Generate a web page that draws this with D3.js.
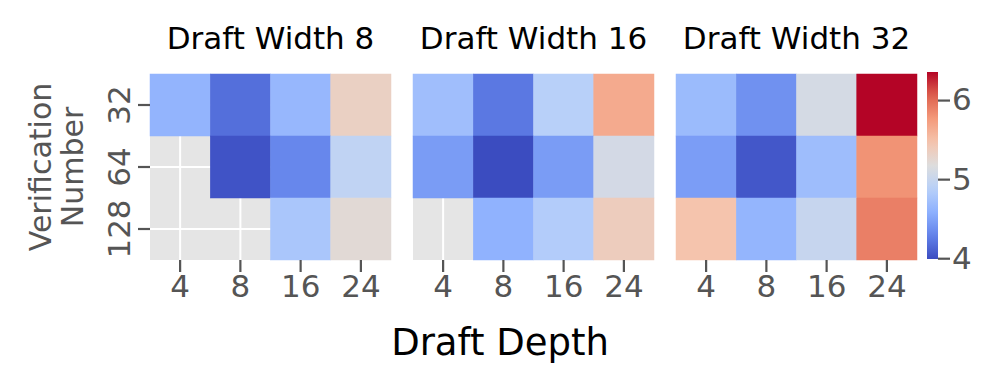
<!DOCTYPE html>
<html>
<head>
<meta charset="utf-8">
<script src="https://cdn.jsdelivr.net/npm/d3@7"></script>
<style>
  body { margin: 0; background: #fff; }
  text { font-family: "DejaVu Sans", sans-serif; }
</style>
</head>
<body>
<div id="chart"></div>
<script>
// Chart data
var depths = [4, 8, 16, 24];          // Draft Depth (columns)
var verifications = [32, 64, 128];    // Verification Number (rows)
var widths = [8, 16, 32];             // Draft Width (panels)

// values[row][col], null = missing cell
var width8 = [
    [4.62, 4.18, 4.65, 5.33],
    [null, 4.03, 4.32, 4.94],
    [null, null, 4.78, 5.22]
];
var width16 = [
    [4.71, 4.23, 4.88, 5.65],
    [4.45, 3.99, 4.45, 5.09],
    [null, 4.60, 4.84, 5.37]
];
var width32 = [
    [4.68, 4.38, 5.10, 6.355],
    [4.46, 4.05, 4.70, 5.80],
    [5.47, 4.63, 4.99, 5.90]
];
var panels = [width8, width16, width32];
var colorTicks = [4, 5, 6];

// SVG dimensions
var svgWidth = 998;
var svgHeight = 391;

var svg = d3.select("#chart")
    .append("svg")
    .attr("width", svgWidth)
    .attr("height", svgHeight);

// coolwarm colormap (matplotlib), linear between stops
var vmin = 3.99, vmax = 6.355;
var cwStops = ["#3b4cc0", "#6282ea", "#8db0fe", "#b8d0f9", "#dddddd",
               "#f5c4ad", "#f49a7b", "#de604d", "#b40426"];
var cw = d3.scaleLinear()
    .domain(d3.range(cwStops.length).map(function (i) { return i / (cwStops.length - 1); }))
    .range(cwStops)
    .interpolate(d3.interpolateRgb);
var color = function (v) { return cw((v - vmin) / (vmax - vmin)); };

var panelLeft = [150, 413, 676];
var panelW = 241;
var plotTop = 74, plotBottom = 260;
var tickColor = "#555";

var yScale = d3.scaleBand().domain(verifications).range([plotTop, plotBottom]);

panels.forEach(function (values, p) {
    var xScale = d3.scaleBand().domain(depths).range([panelLeft[p], panelLeft[p] + panelW]);
    var g = svg.append("g");

    // axes background (shows where a cell is missing)
    g.append("rect")
        .attr("x", panelLeft[p]).attr("y", plotTop)
        .attr("width", panelW).attr("height", plotBottom - plotTop)
        .attr("fill", "#e5e5e5");

    // white grid lines
    g.selectAll(".vgrid")
        .data(depths)
        .enter()
        .append("line")
        .attr("x1", function (d) { return xScale(d) + xScale.bandwidth() / 2; })
        .attr("x2", function (d) { return xScale(d) + xScale.bandwidth() / 2; })
        .attr("y1", plotTop).attr("y2", plotBottom)
        .attr("stroke", "#fff").attr("stroke-width", 2);
    if (p === 0) {
        g.selectAll(".hgrid")
            .data(verifications)
            .enter()
            .append("line")
            .attr("y1", function (d) { return yScale(d) + yScale.bandwidth() / 2; })
            .attr("y2", function (d) { return yScale(d) + yScale.bandwidth() / 2; })
            .attr("x1", panelLeft[p]).attr("x2", panelLeft[p] + panelW)
            .attr("stroke", "#fff").attr("stroke-width", 2);
    }

    // cells
    var cells = [];
    values.forEach(function (row, r) {
        row.forEach(function (v, c) {
            if (v !== null) cells.push({ row: verifications[r], col: depths[c], value: v });
        });
    });
    g.selectAll(".cell")
        .data(cells)
        .enter()
        .append("rect")
        .attr("x", function (d) { return xScale(d.col); })
        .attr("y", function (d) { return yScale(d.row); })
        .attr("width", xScale.bandwidth())
        .attr("height", yScale.bandwidth())
        .attr("fill", function (d) { return color(d.value); })
        .attr("stroke", function (d) { return color(d.value); })
        .attr("stroke-width", 0.5);

    // x axis
    var xAxis = g.append("g")
        .attr("transform", `translate(0, ${plotBottom})`)
        .call(d3.axisBottom(xScale).tickSize(12).tickPadding(3));
    xAxis.select(".domain").remove();
    xAxis.selectAll("line").attr("stroke", tickColor).attr("stroke-width", 2.2);
    xAxis.selectAll("text")
        .attr("fill", tickColor)
        .style("font-size", "31px")
        .style("font-family", "DejaVu Sans");

    // panel title
    g.append("text")
        .attr("x", panelLeft[p] + panelW / 2)
        .attr("y", 49)
        .attr("text-anchor", "middle")
        .style("font-size", "31px")
        .attr("fill", "#000")
        .text("Draft Width " + widths[p]);

    // y axis only on the first panel
    if (p === 0) {
        var yAxis = g.append("g")
            .attr("transform", `translate(${panelLeft[0]}, 0)`)
            .call(d3.axisLeft(yScale).tickSize(12));
        yAxis.select(".domain").remove();
        yAxis.selectAll("line").attr("stroke", tickColor).attr("stroke-width", 2.2);
        yAxis.selectAll("text")
            .attr("x", null).attr("dy", null)
            .attr("text-anchor", "middle")
            .attr("transform", "translate(-20, 0) rotate(-90)")
            .attr("fill", tickColor)
            .style("font-size", "31px")
            .style("font-family", "DejaVu Sans");
    }
});

// y axis label (two lines)
var yLabel = svg.append("text")
    .attr("transform", "translate(0, 167) rotate(-90)")
    .attr("text-anchor", "middle")
    .attr("fill", tickColor)
    .style("font-size", "30px");
yLabel.append("tspan").attr("x", 0).attr("y", 51).text("Verification");
yLabel.append("tspan").attr("x", 0).attr("y", 83).text("Number");

// x axis label
svg.append("text")
    .attr("x", 500)
    .attr("y", 355)
    .attr("text-anchor", "middle")
    .attr("fill", "#000")
    .style("font-size", "37px")
    .text("Draft Depth");

// Colorbar
var cbX = 927, cbW = 11, cbTop = 72, cbBottom = 259;
var cbScale = d3.scaleLinear().domain([vmin, vmax]).range([cbBottom, cbTop]);
var grad = svg.append("defs").append("linearGradient")
    .attr("id", "cbgrad")
    .attr("x1", "0").attr("y1", "1").attr("x2", "0").attr("y2", "0");
grad.selectAll("stop")
    .data(d3.range(0, 1.0001, 0.05))
    .enter()
    .append("stop")
    .attr("offset", function (d) { return d; })
    .attr("stop-color", function (d) { return cw(d); });
svg.append("rect")
    .attr("x", cbX).attr("y", cbTop)
    .attr("width", cbW).attr("height", cbBottom - cbTop)
    .attr("fill", "url(#cbgrad)");
var cbAxis = svg.append("g")
    .attr("transform", `translate(${cbX + cbW}, 0)`)
    .call(d3.axisRight(cbScale).tickValues(colorTicks).tickFormat(d3.format("d"))
        .tickSize(12).tickPadding(2));
cbAxis.select(".domain").remove();
cbAxis.selectAll("line").attr("stroke", tickColor).attr("stroke-width", 2.2);
cbAxis.selectAll("text")
    .attr("fill", tickColor)
    .style("font-size", "31px")
    .style("font-family", "DejaVu Sans");
</script>
</body>
</html>
